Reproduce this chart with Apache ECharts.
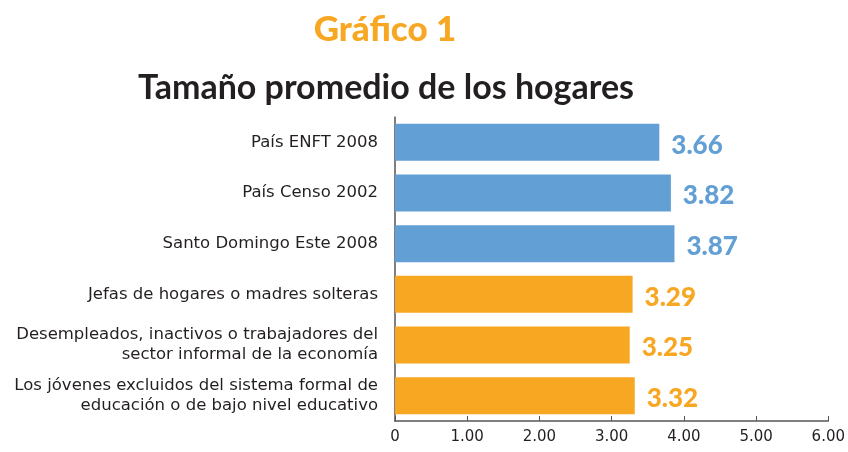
<!DOCTYPE html>
<html><head><meta charset="utf-8">
<script src="https://cdn.jsdelivr.net/npm/echarts@6/dist/echarts.min.js"></script>
<style>html,body{margin:0;padding:0;background:#fff}#c{width:848px;height:452px}</style>
</head><body><div id="c"></div>
<script>
const categories = [
  'País ENFT 2008',
  'País Censo 2002',
  'Santo Domingo Este 2008',
  'Jefas de hogares o madres solteras',
  'Desempleados, inactivos o trabajadores del\nsector informal de la economía',
  'Los jóvenes excluidos del sistema formal de\neducación o de bajo nivel educativo'
];
const values = [3.66, 3.82, 3.87, 3.29, 3.25, 3.32];
const groups = ['país', 'país', 'país', 'grupo', 'grupo', 'grupo'];
const xTicks = [0, 1, 2, 3, 4, 5, 6];
const colors = { 'país': '#629fd4', 'grupo': '#f8a723' };
const font = 'Lato';
const labelFont = 'DejaVu Sans';

const chart = echarts.init(document.getElementById('c'));
chart.setOption({
  animation: false,
  title: [
    { text: 'Gráfico 1', left: 385, textAlign: 'center', top: 12, padding: 0,
      textStyle: { color: '#f8a723', fontSize: 35, fontWeight: 900, fontFamily: font } },
    { text: 'Tamaño promedio de los hogares', left: 386, textAlign: 'center', top: 71, padding: 0,
      textStyle: { color: '#231f20', fontSize: 34, fontWeight: 'bold', fontFamily: font } }
  ],
  grid: { left: 395, right: 19, top: 117, bottom: 31, containLabel: false },
  xAxis: {
    type: 'value', min: xTicks[0], max: xTicks[xTicks.length - 1], interval: 1,
    axisLine: { show: true, lineStyle: { color: '#555', width: 1.5 } },
    axisTick: { show: true, inside: true, length: 5, lineStyle: { color: '#555' } },
    splitLine: { show: false },
    axisLabel: { color: '#231f20', fontSize: 15, fontFamily: labelFont, margin: 9,
      formatter: v => v === 0 ? '0' : v.toFixed(2) }
  },
  yAxis: {
    type: 'category', data: categories, inverse: true,
    axisLine: { show: true, lineStyle: { color: '#555', width: 1.5 } },
    axisTick: { show: false },
    axisLabel: { color: '#231f20', fontSize: 16.5, fontFamily: labelFont, margin: 17, align: 'right', lineHeight: 20 }
  },
  series: [{
    type: 'bar', barWidth: 37,
    data: values.map((v, i) => ({ value: v, itemStyle: { color: colors[groups[i]] },
      label: { color: colors[groups[i]] } })),
    label: { show: true, position: 'right', distance: 12, fontSize: 26, fontWeight: 900, fontFamily: font,
      offset: [0, 3], formatter: p => p.value.toFixed(2) }
  }]
});
</script></body></html>
